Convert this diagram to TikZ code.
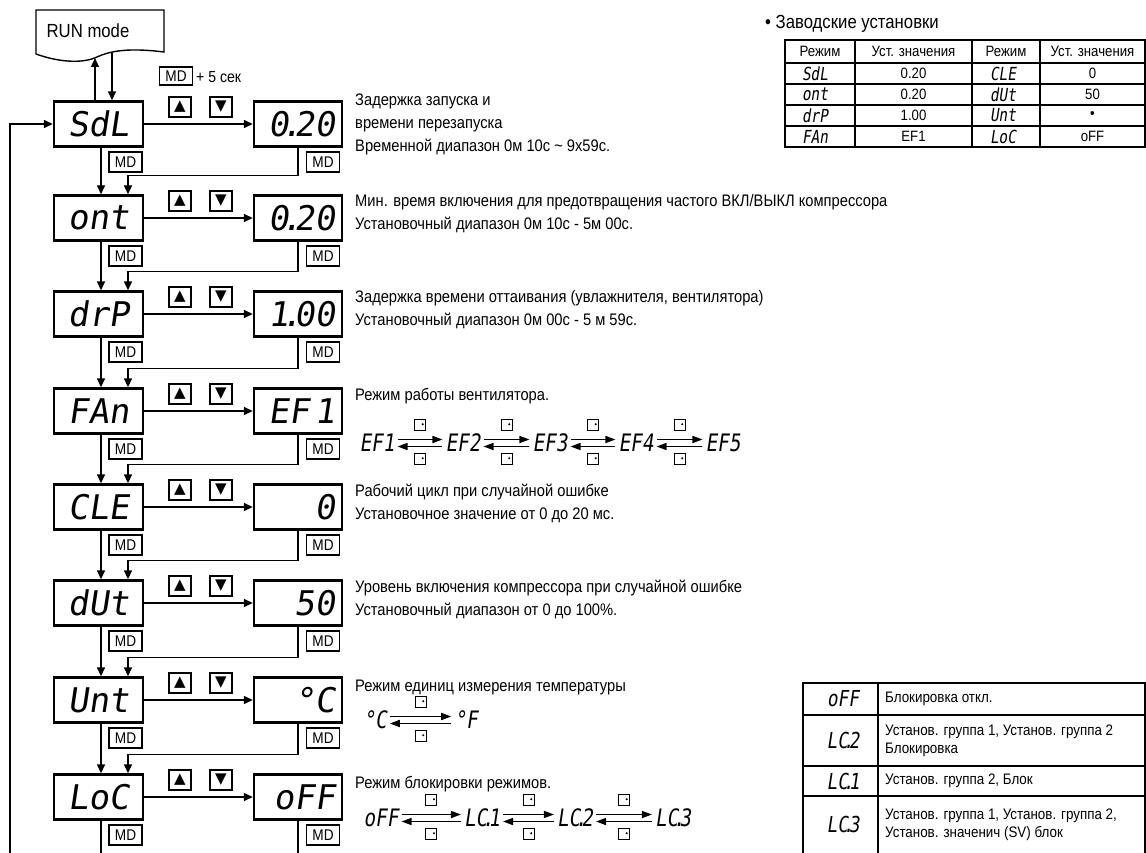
\documentclass[tikz,border=0pt]{standalone}
\usepackage{fontspec}
\setmainfont{Liberation Sans}
\newfontfamily\nar{Liberation Sans}[FakeStretch=0.88]
\newfontfamily\seg{DejaVu Sans Mono}[FakeSlant=0.15]
\newfontfamily\segn{DejaVu Sans Mono}[FakeSlant=0.15, FakeStretch=0.8]
\newfontfamily\djs{DejaVu Sans}
\usetikzlibrary{arrows.meta,calc}
\newcommand{\sdot}{\kern-0.22em.\kern-0.22em}
\newcommand{\dbl}[2]{%
  \draw[sarr] ([yshift=3.5pt]#1.east) -- ([yshift=3.5pt]#2.west);
  \draw[sarr] ([yshift=-3.5pt]#2.west) -- ([yshift=-3.5pt]#1.east);
  \pic at ($(#1.east)!0.5!(#2.west)+(0,-18)$) {keyic};
  \pic at ($(#1.east)!0.5!(#2.west)+(0,16)$) {keyic};}
\begin{document}
\begin{tikzpicture}[x=1pt,y=-1pt,
  arr/.style={-{Triangle[length=9pt,width=8pt]}, line width=1.4pt},
  sarr/.style={-{Triangle[length=10pt,width=7pt]}, line width=1.6pt},
  ln/.style={line width=1.4pt},
  lbox/.style={draw, line width=2.4pt, minimum width=89pt, minimum height=45pt, inner sep=0pt, font=\seg\fontsize{34}{34}\selectfont},
  rbox/.style={draw, line width=2.4pt, minimum width=88pt, minimum height=45pt, inner xsep=7pt, inner ysep=0pt, text width=74pt, align=right, font=\seg\fontsize{34}{34}\selectfont},
  md/.style={draw, line width=1.2pt, minimum width=33pt, minimum height=20pt, inner sep=0pt, font=\nar\fontsize{15.5}{15.5}\selectfont},
  btn/.style={draw, line width=1.4pt, minimum width=22pt, minimum height=20pt, inner sep=0pt, font=\djs\fontsize{15}{15}\selectfont},
  desc/.style={anchor=west, inner sep=0pt, align=left, font=\nar\fontsize{16.7}{23}\selectfont},
  seq/.style={inner sep=3pt, font=\segn\fontsize{24}{24}\selectfont},
  tline/.style={line width=1.2pt},
  th/.style={inner sep=0pt, font=\nar\fontsize{15}{15}\selectfont},
  tseg/.style={inner sep=0pt, font=\segn\fontsize{18}{18}\selectfont},
  ttx/.style={anchor=west, inner sep=0pt, align=left, font=\nar\fontsize{15.2}{18}\selectfont},
  keyic/.pic={\draw[line width=0.9pt, fill=white] (-5.5,-5.5) rectangle (5.5,5.5); \fill (2.7,-0.8) circle (1.1);}
]
\useasboundingbox (0,0) rectangle (1146,853);

% RUN mode
\draw[line width=1.4pt] (36,10) -- (164,10) -- (164,52) .. controls (132,48) and (112,50) .. (97,57) .. controls (82,64) and (58,62) .. (36,54) -- cycle;
\node[minimum width=110pt, minimum height=40pt, inner sep=0pt, font=\nar\fontsize{19}{19}\selectfont] (run) at (88,31) {RUN mode};
\node[md, minimum height=18pt] (mdr) at (176,76) {MD};
\node[anchor=west, inner sep=0pt, font=\nar\fontsize{16}{16}\selectfont] (sec) at (196,77) {+ 5 сек};

% rows
\foreach \i/\c/\l/\r in {1/124/SdL/{0\sdot20}, 2/218/ont/{0\sdot20}, 3/314/drP/{1\sdot00}, 4/411/FAn/{EF\kern0.15em1}, 5/507/CLE/0, 6/603/dUt/50, 7/700/Unt/°C, 8/797/LoC/oFF}{
  \node[lbox] (L\i) at (98.5,\c) {\l};
  \node[rbox] (R\i) at (298,\c) {\r};
  \node[btn] (U\i) at (180,\c-17) {▲};
  \node[btn] (D\i) at (221,\c-17) {▼};
  \node[md] (ML\i) at (125.5,\c+38) {MD};
  \node[md] (MR\i) at (323,\c+38) {MD};
  \draw[arr] (L\i.east) -- (R\i.west);
}
\foreach \i/\j in {1/2,2/3,3/4,4/5,5/6,6/7,7/8}{
  \draw[arr] ([xshift=2.5pt]L\i.south) -- ([xshift=2.5pt]L\j.north);
  \draw[arr] (R\i.south) |- ($(L\j.north)+(29.5,-19)$) -- ([xshift=29.5pt]L\j.north);
}
\coordinate (ru) at (95,58);
\coordinate (rd) at (112,53);
\draw[arr] ([xshift=-3.5pt]L1.north) -- (ru);
\draw[arr] (rd) -- ([xshift=13.5pt]L1.north);
\coordinate (lp) at (10,853);
\draw[arr] (lp) |- (L1.west);
\coordinate (b1) at (101,853);
\coordinate (b2) at (298,853);
\draw[ln] ([xshift=2.5pt]L8.south) -- (b1);
\draw[ln] (R8.south) -- (b2);

% descriptions
\node[desc] (d1) at (355,124) {Задержка запуска и\\времени перезапуска\\Временной диапазон 0м 10с \textasciitilde\ 9х59с.};
\node[desc] (d2) at (355,214) {Мин. время включения для предотвращения частого ВКЛ/ВЫКЛ компрессора\\Установочный диапазон 0м 10с - 5м 00с.};
\node[desc] (d3) at (355,310) {Задержка времени оттаивания (увлажнителя, вентилятора)\\Установочный диапазон 0м 00с - 5 м 59с.};
\node[desc] (d4) at (355,396) {Режим работы вентилятора.};
\node[desc] (d5) at (355,503) {Рабочий цикл при случайной ошибке\\Установочное значение от 0 до 20 мс.};
\node[desc] (d6) at (355,599) {Уровень включения компрессора при случайной ошибке\\Установочный диапазон от 0 до 100\%.};
\node[desc] (d7) at (355,687) {Режим единиц измерения температуры};
\node[desc] (d8) at (355,784) {Режим блокировки режимов.};

% EF sequence
\foreach \k/\x in {1/377,2/463,3/550,4/636,5/723}{ \node[seq] (e\k) at (\x,443) {EF\k}; }
\dbl{e1}{e2}\dbl{e2}{e3}\dbl{e3}{e4}\dbl{e4}{e5}
% unit sequence
\node[seq] (u1) at (375,720) {°C};
\node[seq] (u2) at (466,720) {°F};
\dbl{u1}{u2}
% lock sequence
\node[seq] (k1) at (381,818) {oFF};
\node[seq] (k2) at (482,818) {LC\sdot1};
\node[seq] (k3) at (575,818) {LC\sdot2};
\node[seq] (k4) at (673,818) {LC\sdot3};
\dbl{k1}{k2}\dbl{k2}{k3}\dbl{k3}{k4}

% factory table
\node[anchor=west, inner sep=0pt, font=\nar\fontsize{19}{19}\selectfont] (ft) at (765,24) {• Заводские установки};
\draw[tline] (785,40) rectangle (1145,147);
\foreach \y in {63,84,105,126}{ \draw[tline] (785,\y) -- (1145,\y); }
\draw[tline] (855,40) -- (855,147);
\draw[tline] (1040,40) -- (1040,147);
\draw[line width=2.6pt] (972,40) -- (972,147);
\node[th] (h1) at (820,51.5) {Режим};
\node[th] (h2) at (913.5,51.5) {Уст. значения};
\node[th] (h3) at (1006,51.5) {Режим};
\node[th] (h4) at (1092.5,51.5) {Уст. значения};
\foreach \i/\y/\a/\b/\cc/\d in {1/73.5/SdL/0.20/CLE/0, 2/94.5/ont/0.20/dUt/50, 3/115.5/drP/1.00/Unt/•, 4/136.5/FAn/EF1/LoC/oFF}{
  \node[tseg] (ta\i) at (815,\y) {\a};
  \node[th] (tb\i) at (913.5,\y) {\b};
  \node[tseg] (tc\i) at (1003,\y) {\cc};
  \node[th] (td\i) at (1092.5,\y) {\d};
}

% lock table
\draw[tline] (1145,853) -- (1145,683) -- (803,683) -- (803,853);
\foreach \y in {715,766,796}{ \draw[tline] (803,\y) -- (1145,\y); }
\draw[tline] (878,683) -- (878,853);
\node[tseg, font=\segn\fontsize{22}{22}\selectfont] (la1) at (843,699) {oFF};
\node[tseg, font=\segn\fontsize{22}{22}\selectfont] (la2) at (843,740.5) {LC\sdot2};
\node[tseg, font=\segn\fontsize{22}{22}\selectfont] (la3) at (843,781) {LC\sdot1};
\node[tseg, font=\segn\fontsize{22}{22}\selectfont] (la4) at (843,824.5) {LC\sdot3};
\node[ttx] (lb1) at (885,699) {Блокировка откл.};
\node[ttx] (lb2) at (885,740.5) {Установ. группа 1, Установ. группа 2\\Блокировка};
\node[ttx] (lb3) at (885,781) {Установ. группа 2, Блок};
\node[ttx] (lb4) at (885,824.5) {Установ. группа 1, Установ. группа 2,\\Установ. значенич (SV) блок};
\end{tikzpicture}
\end{document}
